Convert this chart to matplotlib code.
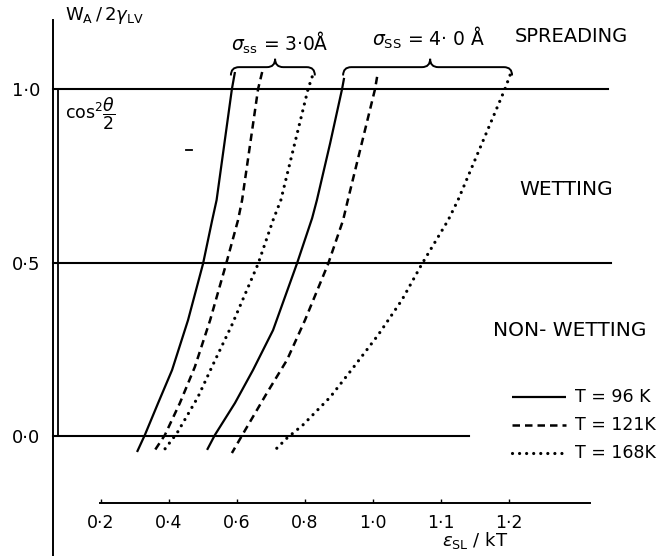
import matplotlib
matplotlib.use("Agg")
import matplotlib.pyplot as plt
from matplotlib.path import Path
from matplotlib.patches import PathPatch

plt.rcParams['font.family'] = ['DejaVu Sans']
plt.rcParams['mathtext.fontset'] = 'dejavusans'

# x positions are in axis units: ticks are evenly spaced, labels as printed
x_tick_pos = [0.2, 0.4, 0.6, 0.8, 1.0, 1.2, 1.4]
x_tick_lab = ['0·2', '0·4', '0·6', '0·8', '1·0', '1·1', '1·2']
y_tick_pos = [0.0, 0.5, 1.0]
y_tick_lab = ['0·0', '0·5', '1·0']

# sigma_ss = 3.0 A
x_30_96 = [0.594, 0.585, 0.540, 0.527, 0.500, 0.456, 0.409, 0.368, 0.329, 0.306]
w_30_96 = [1.049, 1.000, 0.680, 0.622, 0.496, 0.334, 0.190, 0.095, 0.003, -0.046]
x_30_121 = [0.674, 0.662, 0.615, 0.603, 0.568, 0.521, 0.476, 0.432, 0.388, 0.353]
w_30_121 = [1.049, 1.000, 0.680, 0.622, 0.496, 0.334, 0.199, 0.095, 0.003, -0.049]
x_30_168 = [0.821, 0.809, 0.729, 0.706, 0.662, 0.585, 0.529, 0.485, 0.424, 0.379]
w_30_168 = [1.035, 1.000, 0.680, 0.622, 0.496, 0.320, 0.205, 0.112, 0.009, -0.049]

# sigma_ss = 4.0 A
x_40_96 = [0.915, 0.909, 0.874, 0.835, 0.821, 0.776, 0.706, 0.647, 0.594, 0.535, 0.512]
w_40_96 = [1.032, 1.000, 0.844, 0.680, 0.628, 0.496, 0.305, 0.190, 0.095, 0.003, -0.040]
x_40_121 = [1.012, 1.006, 0.926, 0.912, 0.868, 0.800, 0.747, 0.688, 0.624, 0.585]
w_40_121 = [1.035, 1.000, 0.680, 0.622, 0.496, 0.334, 0.219, 0.124, 0.017, -0.049]
x_40_168 = [1.403, 1.388, 1.250, 1.221, 1.144, 1.085, 1.015, 0.941, 0.874, 0.794, 0.747, 0.706]
w_40_168 = [1.040, 1.000, 0.680, 0.622, 0.496, 0.392, 0.291, 0.196, 0.112, 0.032, -0.006, -0.046]

temps = ['T = 96 K', 'T = 121K', 'T = 168K']

solid = dict(color='black', lw=1.6, linestyle='-', solid_capstyle='butt')
dashed = dict(color='black', lw=1.8, linestyle=(0, (3, 2)), dash_capstyle='butt')
dotted = dict(color='black', lw=2.3, linestyle=(0, (0.01, 2.2)), dash_capstyle='round')
styles = [solid, dashed, dotted]

fig = plt.figure(figsize=(6.6, 5.56), dpi=100)
ax = fig.add_axes([0, 0, 1, 1])
ax.set_xlim(-0.097, 1.844)
ax.set_ylim(-0.3458, 1.2565)

# axes: left spine and detached bottom spine
for s in ['top', 'right']:
    ax.spines[s].set_visible(False)
ax.spines['left'].set_position(('data', 0.0588))
ax.spines['left'].set_bounds(-0.3458, 1.199)
ax.spines['bottom'].set_position(('data', -0.193))
ax.spines['bottom'].set_bounds(0.197, 1.638)
ax.spines['left'].set_linewidth(1.4)
ax.spines['bottom'].set_linewidth(1.4)

ax.set_xticks(x_tick_pos)
ax.set_xticklabels(x_tick_lab)
ax.set_yticks(y_tick_pos)
ax.set_yticklabels(y_tick_lab)
ax.tick_params(axis='x', direction='in', length=3, width=1, pad=8, labelsize=12.5)
ax.tick_params(axis='y', direction='in', length=0, pad=9, labelsize=13)

# reference levels
ax.plot([0.0588, 1.691], [1.0, 1.0], color='black', lw=1.5)
ax.plot([0.0588, 1.700], [0.5, 0.5], color='black', lw=1.5)
ax.plot([0.0588, 1.282], [0.0, 0.0], color='black', lw=1.5)
ax.plot([0.0735, 0.0735], [0.0, 1.0], color='black', lw=1.3)
ax.plot([0.450, 0.468], [0.824, 0.824], color='black', lw=1.3)

for xs, ws, st in zip([x_30_96, x_30_121, x_30_168], [w_30_96, w_30_121, w_30_168], styles):
    ax.plot(xs, ws, **st)
for xs, ws, st in zip([x_40_96, x_40_121, x_40_168], [w_40_96, w_40_121, w_40_168], styles):
    ax.plot(xs, ws, **st)


def brace(x0, xm, x1, y, h):
    verts = [(x0, y - h), (x0, y), (x0 + h, y),
             (xm - h, y), (xm, y), (xm, y + h),
             (xm, y), (xm + h, y),
             (x1 - h, y), (x1, y), (x1, y - h)]
    codes = [Path.MOVETO, Path.CURVE3, Path.CURVE3,
             Path.LINETO, Path.CURVE3, Path.CURVE3,
             Path.CURVE3, Path.CURVE3,
             Path.LINETO, Path.CURVE3, Path.CURVE3]
    ax.add_patch(PathPatch(Path(verts, codes), fill=False, lw=1.4, color='black'))


brace(0.582, 0.712, 0.829, 1.063, 0.024)
brace(0.912, 1.168, 1.409, 1.063, 0.024)

ax.text(0.094, 1.213, r'$\mathrm{W_A\,/\,2}\gamma_{\mathrm{LV}}$', fontsize=13, ha='left', va='center')
ax.text(0.094, 0.930, r'$\mathrm{cos}^{2}\dfrac{\theta}{2}$', fontsize=12.5, ha='left', va='center')
ax.text(0.726, 1.133, r'$\sigma_{\mathrm{ss}}$ = 3·0Å', fontsize=13.5, ha='center', va='center')
ax.text(1.162, 1.147, r'$\sigma_{\mathrm{SS}}$ = 4· 0 Å', fontsize=13.5, ha='center', va='center')
ax.text(1.582, 1.150, 'SPREADING', fontsize=14, ha='center', va='center')
ax.text(1.568, 0.709, 'WETTING', fontsize=14.5, ha='center', va='center')
ax.text(1.579, 0.305, 'NON- WETTING', fontsize=14.5, ha='center', va='center')
ax.text(1.300, -0.300, r'$\epsilon_{\mathrm{SL}}$ / kT', fontsize=13, ha='center', va='center')

# legend drawn as in the original
leg_y = [0.112, 0.032, -0.049]
for yy, st, lab in zip(leg_y, styles, temps):
    ax.plot([1.409, 1.568], [yy, yy], **st)
    ax.text(1.594, yy, lab, fontsize=12.5, ha='left', va='center')

fig.savefig('out.png', dpi=100)
